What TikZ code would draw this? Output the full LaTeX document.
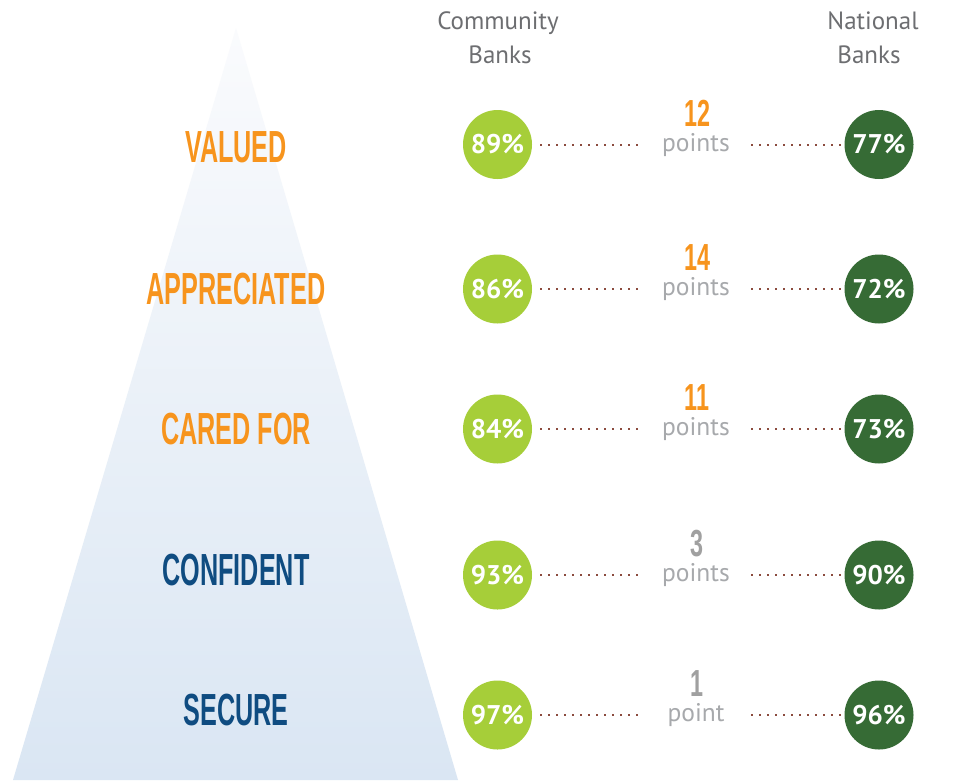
\documentclass[tikz,border=0pt]{standalone}
\usepackage{graphicx}
\usepackage{fontspec}
\setmainfont{PT Sans}
\newfontfamily\lblfont{Liberation Sans}
\definecolor{orangeC}{HTML}{F7941D}
\definecolor{blueC}{HTML}{0F4C81}
\definecolor{lightG}{HTML}{A6CE39}
\definecolor{darkG}{HTML}{366B35}
\definecolor{grayN}{HTML}{A0A0A0}
\definecolor{hdrC}{HTML}{6D6E71}
\definecolor{ptsC}{HTML}{A7A9AC}
\definecolor{dotC}{HTML}{8B4B3E}
\definecolor{triTop}{HTML}{FAFBFD}
\definecolor{triBot}{HTML}{DAE6F3}
\newcommand{\cond}[2]{\scalebox{#1}[1]{\lblfont\bfseries #2}}
\begin{document}
\begin{tikzpicture}[x=1pt,y=-1pt,
  lbl/.style={inner sep=0pt,font=\fontsize{45}{45}\selectfont},
  num/.style={inner sep=0pt,font=\fontsize{37.7}{38}\selectfont},
  gc/.style={circle,fill=lightG,minimum size=69pt,inner sep=0pt,text=white,font=\bfseries\fontsize{27}{27}\selectfont},
  nc/.style={circle,fill=darkG,minimum size=69pt,inner sep=0pt,text=white,font=\bfseries\fontsize{27}{27}\selectfont},
  pts/.style={anchor=base,inner sep=0pt,minimum width=110pt,text=ptsC,font=\fontsize{25.5}{25.5}\selectfont},
  hdr/.style={anchor=base,inner sep=0pt,text=hdrC,font=\fontsize{25}{25}\selectfont},
  dotline/.style={draw=dotC,line width=2pt,dash pattern=on 2pt off 6pt}]
\useasboundingbox (0,0) rectangle (955,780);
\fill[white] (0,0) rectangle (955,780);
\shade[top color=triTop,bottom color=triBot] (236,28) -- (458,780) -- (13,780) -- cycle;
\node[hdr] (hc1) at (498,29) {Community};
\node[hdr] (hc2) at (500,63) {Banks};
\node[hdr] (hn1) at (873,29) {National};
\node[hdr] (hn2) at (869,63) {Banks};
\foreach \i/\cy/\ly/\word/\wc/\a/\b/\d/\dc/\pt in {
  1/144.5/147.5/VALUED/orangeC/89/77/12/orangeC/points,
  2/289/289/APPRECIATED/orangeC/86/72/14/orangeC/points,
  3/429/429/CARED FOR/orangeC/84/73/11/orangeC/points,
  4/575/570/CONFIDENT/blueC/93/90/3/grayN/points,
  5/715/710/SECURE/blueC/97/96/1/grayN/point}
{
  \node[lbl,text=\wc] (L\i) at (236,\ly) {\cond{0.56}{\word}};
  \node[gc] (g\i) at (497.5,\cy) {\a\%};
  \node[nc] (n\i) at (879,\cy) {\b\%};
  \node[num,text=\dc] (d\i) at (697,\cy-31) {\cond{0.62}{\d}};
  \node[pts] (p\i) at (696,\cy+6.5) {\pt};
  \draw[dotline] ([xshift=8pt]g\i.east) -- (g\i.east -| p\i.west);
  \draw[dotline] (g\i.east -| p\i.east) -- (n\i.west);
}
\end{tikzpicture}
\end{document}
